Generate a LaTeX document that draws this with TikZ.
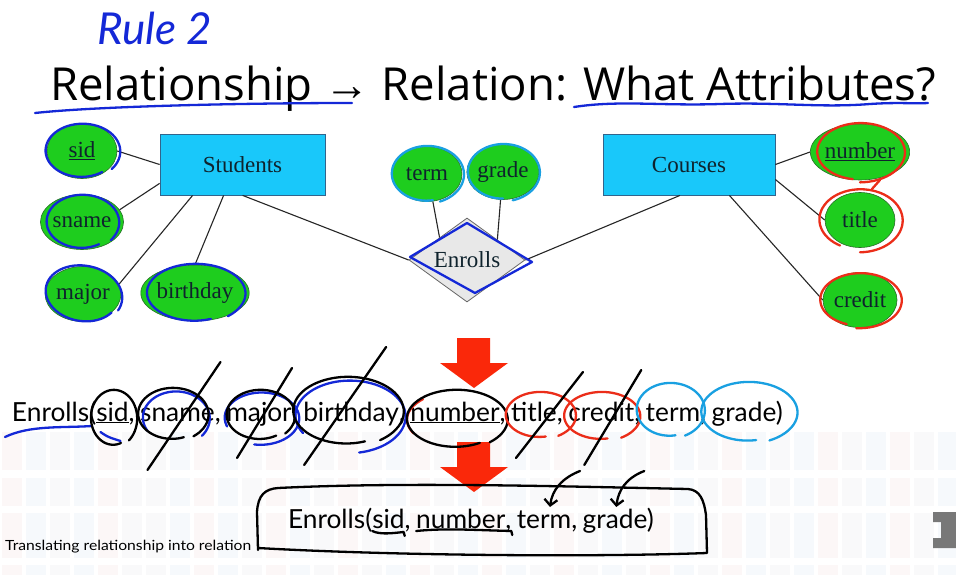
\documentclass[tikz,border=0pt]{standalone}
\usepackage{fontspec}
\setmainfont{Liberation Serif}
\newfontfamily\slidefont{Open Sans}
\newfontfamily\arrowfont{Liberation Sans}
\newfontfamily\latofont{Lato}
\newfontfamily\capfont{Lato}[FakeStretch=1.12]
\usetikzlibrary{shapes.geometric,arrows.meta,calc}

\definecolor{erGreen}{RGB}{30,205,30}
\definecolor{erGreenEdge}{RGB}{40,110,40}
\definecolor{erCyan}{RGB}{25,200,250}
\definecolor{erCyanEdge}{RGB}{50,100,140}
\definecolor{erInk}{RGB}{15,35,45}
\definecolor{diamondFill}{RGB}{232,232,232}
\definecolor{penBlue}{RGB}{20,40,215}
\definecolor{penRed}{RGB}{235,45,25}
\definecolor{penSky}{RGB}{25,160,225}
\definecolor{arrowRed}{RGB}{250,40,10}
\definecolor{logoGray}{RGB}{120,120,120}
\definecolor{bgA}{RGB}{252,247,247}
\definecolor{bgB}{RGB}{246,249,252}
\definecolor{bgC}{RGB}{249,249,250}

\def\wgap{5.5pt}

% open, slightly spiralling hand-drawn loop: style, centre, rx, ry, start angle, sweep
\newcommand\penloop[6]{%
  \draw[pen,#1,shift={(#2)}] plot[smooth,samples=60,domain=0:#6,variable=\t]
    ({#3*(1+0.10*(\t/360-0.5))*cos(\t+#5)},{#4*(1+0.10*(\t/360-0.5))*sin(\t+#5)});}

\tikzset{
  entity/.style={rectangle, draw=erCyanEdge, line width=0.8pt, fill=erCyan,
    minimum width=165pt, minimum height=61pt, font=\fontsize{23}{23}\selectfont, text=erInk},
  attr/.style={ellipse, draw=erGreenEdge, line width=0.6pt, fill=erGreen, inner sep=0pt,
    minimum width=70pt, minimum height=55pt, font=\fontsize{23}{23}\selectfont, text=erInk},
  relship/.style={diamond, draw=gray!80!black, line width=0.8pt, fill=diamondFill,
    minimum width=116pt, minimum height=84pt, inner sep=0pt, font=\fontsize{23}{23}\selectfont, text=erInk},
  erlink/.style={draw=black!85, line width=1.1pt},
  pen/.style={line width=2.3pt, line cap=round, line join=round},
  word/.style={anchor=base west, inner sep=0pt, outer sep=0pt,
    font=\latofont\fontsize{26.3}{31}\selectfont},
  scrawl/.style={pen, black, -{Straight Barb[length=6pt,width=13pt]}},
}

\begin{document}
\begin{tikzpicture}[x=1pt,y=-1pt]
\useasboundingbox (0,0) rectangle (956,575);
\fill[white] (0,0) rectangle (956,575);

% faint striped slide background in the lower part
\foreach \ya/\yb in {432/470, 478/506, 513/558, 565/575}{
  \foreach [count=\k] \c in {bgA,bgB,bgC,bgB,bgA,bgC,bgC,bgB,bgA,bgB,bgC,bgA,bgB,bgC,
      bgA,bgC,bgB,bgA,bgC,bgB,bgA,bgB,bgC,bgA,bgC,bgB,bgC,bgA,bgB,bgC,bgA,bgB,bgC,
      bgB,bgA,bgC,bgB,bgA,bgC,bgB}{
    \fill[\c] ({24*(\k-1)+2},\ya) rectangle ({24*(\k-1)+22},\yb);
  }
}

% ---------- heading ----------
\node[anchor=base west, inner sep=0pt, text=penBlue,
      font=\latofont\itshape\fontsize{44}{44}\selectfont] (rule) at (97,45) {Rule 2};
\node[anchor=base west, inner sep=0pt, font=\slidefont\fontsize{45.5}{46}\selectfont]
      (heading) at (50,101) {Relationship {\arrowfont →} Relation: What Attributes?};
\draw[pen,penBlue] (35,113) .. controls (100,106) and (250,103) .. (352,103);
\draw[pen,penBlue] (574,107) .. controls (620,100) and (660,106) .. (720,104)
  .. controls (780,102) and (820,108) .. (870,104) .. controls (900,102) and (915,104) .. (928,103);

% ---------- ER diagram ----------
\node[entity] (students) at (242.5,164.5) {Students};
\node[entity, minimum width=172pt] (courses) at (689,164.5) {Courses};
\node[relship] (enrolls) at (467,260) {Enrolls};

\node[attr] (sid) at (82,151) {\underline{sid}};
\node[attr] (sname) at (82,222) {sname};
\node[attr, minimum width=72pt] (major) at (83,294) {major};
\node[attr, minimum width=94pt, minimum height=56pt] (birthday) at (195,293) {birthday};
\node[attr] (term) at (427,174) {term};
\node[attr] (grade) at (503,172) {grade};
\node[attr, minimum width=84pt, minimum height=56pt] (number) at (860,152) {\underline{number}};
\node[attr] (title) at (860,220) {title};
\node[attr] (credit) at (860,300) {credit};

\draw[erlink] (sid.east) -- (students.west);
\draw[erlink] (sname.18) -- ([yshift=12pt]students.south west);
\draw[erlink] (major.15) -- ([xshift=33pt]students.south west);
\draw[erlink] (birthday.north) -- ([xshift=64pt]students.south west);
\draw[erlink] ([xshift=83pt]students.south west) -- (enrolls.west);
\draw[erlink] (term.282) -- ($(enrolls.west)!0.53!(enrolls.north)$);
\draw[erlink] (grade.265) -- ($(enrolls.north)!0.52!(enrolls.east)$);
\draw[erlink] (enrolls.east) -- ([xshift=-9pt]courses.south);
\draw[erlink] (courses.east) -- (number.west);
\draw[erlink] ([yshift=-15pt]courses.east) -- (title.west);
\draw[erlink] ([xshift=-46pt]courses.south east) -- (credit.west);

% pen marks on the diagram
\penloop{penBlue}{sid}{37}{27}{55}{345}
\penloop{penBlue}{sname}{36}{27}{60}{340}
\penloop{penBlue,rotate=-10}{major}{38}{28}{30}{350}
\penloop{penBlue}{birthday}{49}{29}{70}{340}
\penloop{penSky}{term}{36}{28}{80}{350}
\penloop{penSky}{grade}{36}{28}{90}{345}
\draw[pen,penBlue,shift={(enrolls.center)}] (-57,-3) -- (0,-37) -- (65,2) -- (8,33) -- cycle;
\penloop{penRed}{number}{44}{29}{100}{350}
\draw[pen,penRed] (880,180) -- (872,189);
\penloop{penRed}{title}{42}{31}{120}{330}
\penloop{penRed}{credit}{41}{27}{110}{345}

% ---------- red block arrows ----------
\fill[arrowRed] (457,338) -- (490,338) -- (490,363) -- (508,363) -- (474,388)
  -- (440,363) -- (457,363) -- cycle;
\fill[arrowRed] (457,442) -- (490,442) -- (490,467) -- (508,467) -- (474,492)
  -- (440,467) -- (457,467) -- cycle;

% ---------- all attributes ----------
\node[word] (w-open) at (12,421) {Enrolls(};
\node[word] (w-sid) at (w-open.base east) {\underline{sid}};
\node[word] (c1) at (w-sid.base east) {,};
\node[word] (w-sname) at ([xshift=\wgap]c1.base east) {sname};
\node[word] (c2) at (w-sname.base east) {,};
\node[word] (w-major) at ([xshift=\wgap]c2.base east) {major};
\node[word] (c3) at (w-major.base east) {,};
\node[word] (w-birthday) at ([xshift=\wgap]c3.base east) {birthday};
\node[word] (c4) at (w-birthday.base east) {,};
\node[word] (w-number) at ([xshift=\wgap]c4.base east) {\underline{number}};
\node[word] (c5) at (w-number.base east) {,};
\node[word] (w-title) at ([xshift=\wgap]c5.base east) {title};
\node[word] (c6) at (w-title.base east) {,};
\node[word] (w-credit) at ([xshift=\wgap]c6.base east) {credit};
\node[word] (c7) at (w-credit.base east) {,};
\node[word] (w-term) at ([xshift=\wgap]c7.base east) {term};
\node[word] (c8) at (w-term.base east) {,};
\node[word] (w-grade) at ([xshift=\wgap]c8.base east) {grade)};

% pen marks on the attribute list
\draw[pen,penBlue] ($(w-open.base west)+(-7,16)$) .. controls +(25,-12) and +(-30,2) .. ($(w-open.base west)+(80,5)$);
\draw[pen,penBlue] ($(w-sid.base)+(-12,11)$) .. controls +(8,6) and +(-6,-2) .. ($(w-sid.base)+(8,20)$);
\penloop{black}{$(w-sid.base)+(1,-3)$}{23}{28}{70}{340}
\penloop{penBlue}{$(w-sname.base)+(-2,-3)$}{34}{27}{150}{250}
\penloop{black}{$(w-sname.base)+(-5,-7)$}{35}{26}{70}{345}
\penloop{penBlue}{$(w-major.base)+(2,-3)$}{38}{26}{160}{300}
\penloop{black}{$(w-major.base)+(1,-6)$}{34}{25}{60}{345}
\penloop{penBlue}{$(w-birthday.base)+(-2,-5)$}{56}{36}{150}{290}
\penloop{black}{$(w-birthday.base)+(-4,-10)$}{55}{34}{70}{345}
\penloop{penRed}{$(w-number.base)+(-2,-1)$}{48}{28}{150}{80}
\penloop{black}{$(w-number.base)+(1,-2)$}{50}{29}{60}{350}
\penloop{penRed}{$(w-title.base)+(6,-6)$}{35}{23}{80}{340}
\penloop{penRed}{$(w-credit.base)+(0,-5)$}{38}{24}{80}{340}
\penloop{penSky}{$(w-term.base)+(-3,-11)$}{34}{27}{80}{345}
\penloop{penSky}{$(w-grade.base)+(1,-9)$}{48}{30}{80}{345}
\draw[pen,black] ($(w-sname.base)+(-30,49)$) -- ($(w-sname.base)+(43,-59)$);
\draw[pen,black] ($(w-major.base)+(-22,37)$) -- ($(w-major.base)+(33,-53)$);
\draw[pen,black] ($(w-birthday.base)+(-47,44)$) -- ($(w-birthday.base)+(35,-74)$);
\draw[pen,black] ($(w-title.base)+(-18,37)$) -- ($(w-title.base)+(49,-49)$);
\draw[pen,black] ($(w-credit.base)+(-17,44)$) -- ($(w-credit.base)+(40,-51)$);

% ---------- resulting relation ----------
\node[word] (b-open) at (288,528) {Enrolls(};
\node[word] (b-sid) at (b-open.base east) {sid};
\node[word] (d1) at (b-sid.base east) {,};
\node[word] (b-number) at ([xshift=\wgap]d1.base east) {number};
\node[word] (d2) at (b-number.base east) {,};
\node[word] (b-term) at ([xshift=\wgap]d2.base east) {term};
\node[word] (d3) at (b-term.base east) {,};
\node[word] (b-grade) at ([xshift=\wgap]d3.base east) {grade)};

\draw[pen,black] (258,550) -- (257,512) .. controls (258,495) and (265,489) .. (278,488)
  .. controls (400,482) and (550,486) .. (688,489) .. controls (700,490) and (704,500) .. (706,515)
  -- (707,553) .. controls (600,557) and (400,556) .. (258,548);
\draw[pen,black] ($(b-sid.base west)+(0,3)$) .. controls +(8,4) and +(-10,1) .. ($(b-sid.base east)+(-1,4)$) -- ++(1,4);
\draw[pen,black] ($(b-number.base west)+(0,3)$) .. controls +(30,-3) and +(-40,-1) .. ($(d2.base east)+(0,3)$) -- ++(1,4);
\begin{scope}[shift={(b-term.base)}]
  \draw[scrawl] (36,-57) .. controls (18,-50) and (8,-38) .. (6,-21);
\end{scope}
\begin{scope}[shift={(b-grade.base)}]
  \draw[scrawl] (26,-57) .. controls (8,-50) and (0,-38) .. (-2,-21);
\end{scope}

% ---------- footer ----------
\node[anchor=base west, inner sep=0pt, font=\capfont\fontsize{14}{14}\selectfont]
  (caption) at (5,550) {Translating relationship into relation};
\fill[logoGray] (933,512) -- (956,512) -- (956,548) -- (933,548) -- (933,538)
  -- (941,538) -- (941,522) -- (933,522) -- cycle;
\end{tikzpicture}
\end{document}
